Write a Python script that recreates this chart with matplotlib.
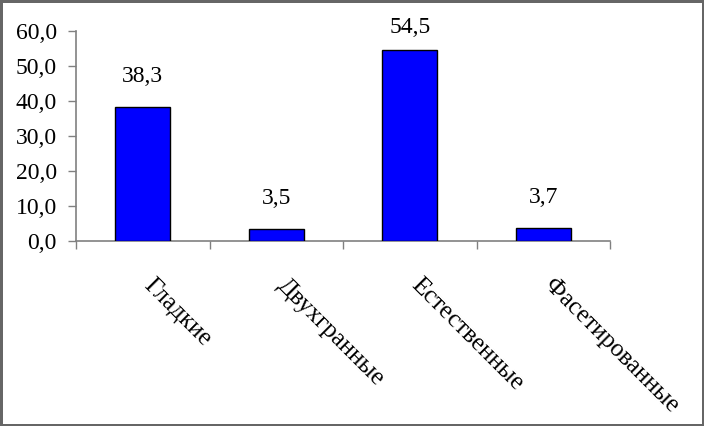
import matplotlib
matplotlib.use("Agg")
import matplotlib.pyplot as plt
from matplotlib.ticker import FixedLocator, FuncFormatter
import numpy as np

categories = ["Гладкие", "Двухгранные", "Естественные", "Фасетированные"]
values = [38.3, 3.5, 54.5, 3.7]
yticks = [0, 10, 20, 30, 40, 50, 60]

plt.rcParams['font.family'] = ['Liberation Serif', 'DejaVu Serif']

W, H = 704, 426
fig = plt.figure(figsize=(W/100, H/100), dpi=100)
fig.patch.set_edgecolor('#666666')
fig.patch.set_linewidth(2.5)
ax = fig.add_axes([76/W, 1-241/H, (610-76)/W, (241-31)/H])

x = np.arange(len(categories))
bars = ax.bar(x, values, width=0.41, color='#0000FF', edgecolor='black', linewidth=1.0, zorder=3)

ax.set_xlim(-0.5, len(categories) - 0.5)
ax.set_ylim(0, 60)
ax.set_yticks(yticks)
ax.yaxis.set_major_formatter(FuncFormatter(lambda v, p: f"{v:.1f}".replace('.', ',')))
ax.tick_params(axis='y', labelsize=17, length=5.8, color='#808080', width=1, pad=8)

ax.xaxis.set_major_locator(FixedLocator(np.arange(-0.5, len(categories), 1.0)))
ax.xaxis.set_major_formatter(FuncFormatter(lambda v, p: ""))
ax.tick_params(axis='x', length=5.8, color='#808080', width=1)

for s in ['top', 'right']:
    ax.spines[s].set_visible(False)
for s in ['left', 'bottom']:
    ax.spines[s].set_color('#808080')
    ax.spines[s].set_linewidth(1.2)

# value labels: 25 px above bar top, but kept inside the plot area (baseline no higher than 33 px from top)
for xi, v in zip(x, values):
    px, py = ax.transData.transform((xi, v))
    by = min(py + 25, H - 33)
    fig.text(px / W, by / H, f"{v:.1f}".replace('.', ','),
             ha='center', va='baseline', fontsize=17)

for xi, c in zip(x, categories):
    ax.annotate(c, xy=(xi, 0), xytext=(12, -33), textcoords='offset pixels',
                ha='left', va='top', rotation=-45, rotation_mode='anchor', fontsize=18)

fig.savefig("out.png", dpi=100, edgecolor=fig.get_edgecolor())
